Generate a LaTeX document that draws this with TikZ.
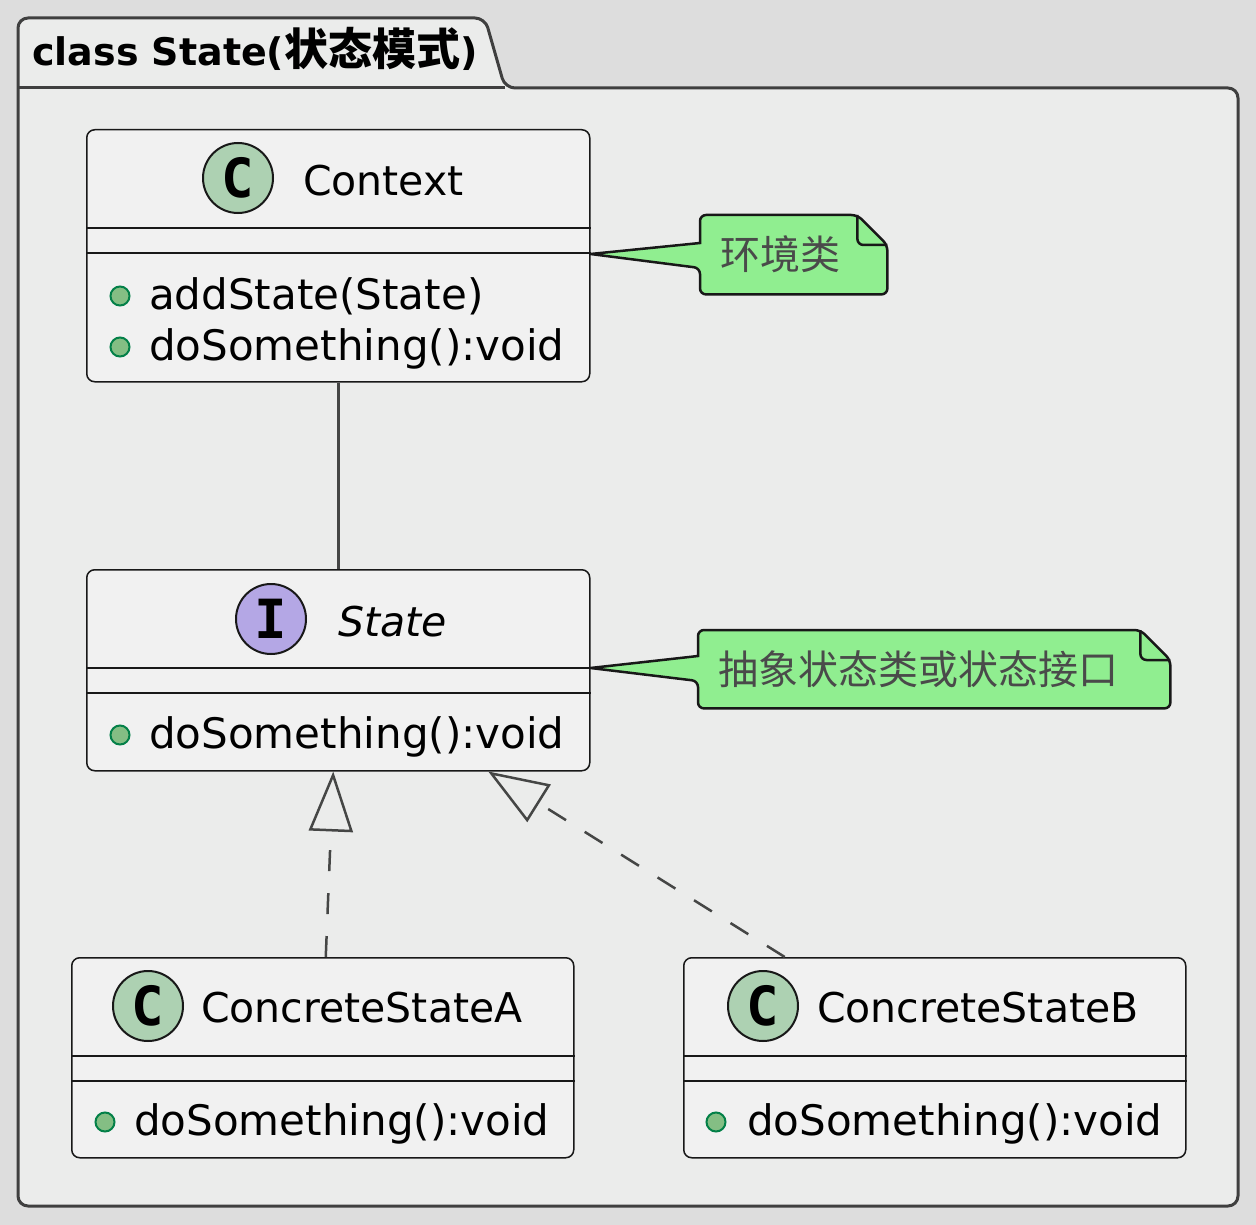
\documentclass[tikz,border=0pt]{standalone}
\usepackage{fontspec}
\setmainfont{DejaVu Sans}
\newfontfamily\cjkfont{Noto Sans CJK SC}
\newfontfamily\spotfont{DejaVu Sans Mono}
\usetikzlibrary{arrows.meta,backgrounds}
\definecolor{bgcol}{HTML}{DDDDDD}
\definecolor{pkgfill}{HTML}{EBECEB}
\definecolor{pkgborder}{HTML}{3F3F3F}
\definecolor{boxfill}{HTML}{F1F1F1}
\definecolor{boxline}{HTML}{181818}
\definecolor{linkcol}{HTML}{454645}
\definecolor{notefill}{HTML}{90EE90}
\definecolor{notetext}{HTML}{4A4A4A}
\definecolor{spotC}{HTML}{ADD1B2}
\definecolor{spotI}{HTML}{B4A7E5}
\definecolor{dotfill}{HTML}{84BE84}
\definecolor{dotline}{HTML}{038048}
\tikzset{
    classbox/.style = {draw=boxline, fill=boxfill, line width=1.5pt, rectangle, rounded corners=8pt, anchor=north west, inner sep=0pt},
    spot/.style = {circle, draw=boxline, line width=2pt, minimum size=70pt, inner sep=0pt, font=\spotfont\bfseries\fontsize{54}{54}\selectfont},
    classname/.style = {anchor=base west, inner sep=0pt, font=\fontsize{41}{48}\selectfont},
    member/.style = {anchor=base west, inner sep=0pt, font=\fontsize{42}{48}\selectfont},
    pubdot/.style = {circle, draw=dotline, fill=dotfill, line width=2pt, minimum size=19pt, inner sep=0pt},
    sepline/.style = {draw=boxline, line width=1.5pt},
    pkgline/.style = {draw=pkgborder, line width=3pt},
    pkgtitle/.style = {anchor=base west, inner sep=0pt, font=\bfseries\fontsize{38}{44}\selectfont},
    notebox/.style = {anchor=north west, inner xsep=20pt, inner ysep=0pt, align=left, text=notetext, font=\cjkfont\fontsize{40}{44}\selectfont},
    noteline/.style = {draw=boxline, fill=notefill, line width=2.5pt, rounded corners=6pt},
    assoc/.style = {draw=linkcol, line width=2.5pt},
    realize/.style = {assoc, dash pattern=on 21pt off 22pt, -{Triangle[open, length=60pt, width=44pt]}},
}

\begin{document}
\begin{tikzpicture}[x=1pt, y=-1pt]
\useasboundingbox (0,0) rectangle (1256,1225);
\begin{scope}[on background layer]
\fill[bgcol] (0,0) rectangle (1256,1225);
\draw[pkgline, fill=pkgfill, rounded corners=10pt] (18,88) -- (18,18) -- (485,18) -- (505,88) -- (1238,88) -- (1238,1206) -- (18,1206) -- cycle;
\draw[pkgline] (18,88) -- (505,88);
\end{scope}
\node[pkgtitle] (pkgname) at (32,66) {class State({\cjkfont\fontsize{44}{44}\selectfont 状态模式})};

\node[classbox, minimum width=503pt, minimum height=252pt] (ctx) at (86,129) {};
\node[spot, fill=spotC] (ctxspot) at (238,178) {C};
\node[classname] (ctxname) at (303,196) {Context};
\node[pubdot] (ctxdot1) at (120,296) {};
\node[member] (ctxm1) at (149,309) {addState(State)};
\node[pubdot] (ctxdot2) at (120,347) {};
\node[member] (ctxm2) at (149,360) {doSomething():void};

\node[classbox, minimum width=503pt, minimum height=201pt] (state) at (86,569) {};
\node[spot, fill=spotI] (statespot) at (271,619) {I};
\node[classname, font=\itshape\fontsize{41}{48}\selectfont] (statename) at (338,636) {State};
\node[pubdot] (statedot) at (120,735) {};
\node[member] (statem) at (149,748) {doSomething():void};

\node[classbox, minimum width=502pt, minimum height=200pt] (csa) at (71,957) {};
\node[spot, fill=spotC] (csaspot) at (148,1006) {C};
\node[classname] (csaname) at (201,1022) {ConcreteStateA};
\node[pubdot] (csadot) at (105,1122) {};
\node[member] (csam) at (134,1135) {doSomething():void};

\node[classbox, minimum width=502pt, minimum height=200pt] (csb) at (683,957) {};
\node[spot, fill=spotC] (csbspot) at (763,1006) {C};
\node[classname] (csbname) at (817,1022) {ConcreteStateB};
\node[pubdot] (csbdot) at (716,1122) {};
\node[member] (csbm) at (747,1135) {doSomething():void};

\foreach \n in {ctx,state,csa,csb} {
    \draw[sepline] ([yshift=-99pt]\n.north west) -- ([yshift=-99pt]\n.north east);
    \draw[sepline] ([yshift=-124pt]\n.north west) -- ([yshift=-124pt]\n.north east);
}

\node[notebox, text width=147pt, minimum height=79pt] (envnote) at (700,215) {环境类};
\node[notebox, text width=432pt, minimum height=78pt] (statenote) at (698,630) {抽象状态类或状态接口};
\begin{scope}[on background layer]
\draw[noteline] (envnote.north west) -- ([xshift=-30pt]envnote.north east) -- ([yshift=-30pt]envnote.north east) -- (envnote.south east) -- (envnote.south west) -- ([yshift=-53pt]envnote.north west) [sharp corners] -- ([yshift=-125pt]ctx.north east) -- ([yshift=-28pt]envnote.north west) [rounded corners=6pt] -- cycle;
\draw[noteline, fill=none] ([xshift=-30pt]envnote.north east) |- ([yshift=-30pt]envnote.north east);
\draw[noteline] (statenote.north west) -- ([xshift=-30pt]statenote.north east) -- ([yshift=-30pt]statenote.north east) -- (statenote.south east) -- (statenote.south west) -- ([yshift=-51pt]statenote.north west) [sharp corners] -- ([yshift=-99pt]state.north east) -- ([yshift=-26pt]statenote.north west) [rounded corners=6pt] -- cycle;
\draw[noteline, fill=none] ([xshift=-30pt]statenote.north east) |- ([yshift=-30pt]statenote.north east);
\end{scope}

\draw[assoc] (ctx.south) -- (state.north);
\draw[realize] ([xshift=3pt]csa.north) -- ([xshift=-5pt]state.south);
\draw[realize] ([xshift=-150pt]csb.north) -- ([xshift=150pt]state.south);
\end{tikzpicture}
\end{document}
